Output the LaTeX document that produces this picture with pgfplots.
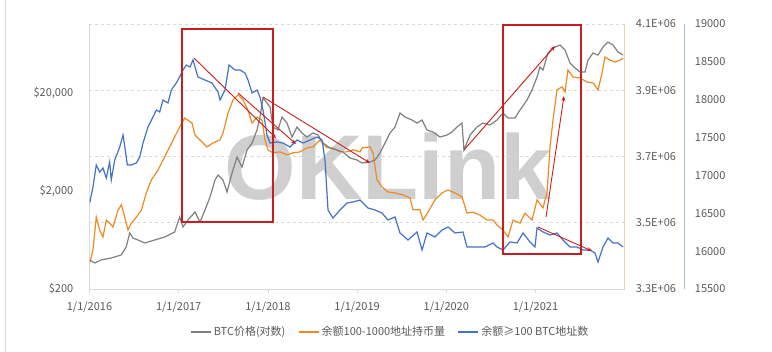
\documentclass[border=0pt]{standalone}
\usepackage{pgfplots}
\pgfplotsset{compat=1.18}
\usepackage{fontspec}
\setmainfont{Noto Sans CJK SC}
\newfontfamily\wmfont{Liberation Sans}
\usetikzlibrary{arrows.meta}
\definecolor{btcgray}{HTML}{808080}
\definecolor{orser}{HTML}{EE8A22}
\definecolor{blser}{HTML}{4472C4}
\definecolor{ann}{HTML}{C81E1E}
\definecolor{ticktext}{HTML}{595959}
\definecolor{axgray}{HTML}{D9D9D9}
\definecolor{gridc}{HTML}{D9D9D9}
\definecolor{oraxis}{HTML}{F8CBAD}
\definecolor{blaxis}{HTML}{A9BCD0}
\definecolor{wmgray}{HTML}{CFCFCF}
\newcommand\tickfont{\fontsize{11bp}{13bp}\selectfont}
\begin{document}
\begin{tikzpicture}
\useasboundingbox (0,0) rectangle (772bp,352bp);
\draw[axgray, line width=0.8bp] (5bp,0) -- (5bp,352bp);
\node[anchor=base, text=wmgray, inner sep=0pt, font=\wmfont\bfseries\fontsize{92bp}{92bp}\selectfont] at (388bp,152bp) {OKLink};
\pgfplotsset{common/.style={width=535.2bp,height=265bp,scale only axis,at={(89.5bp,63bp)},anchor=south west,xmin=0,xmax=6,
  scaled y ticks=false, scaled x ticks=false,
  tick label style={font=\tickfont, text=ticktext}}}
% ---------- orange axis ----------
\begin{axis}[common,
  axis x line=none, xtick=\empty,
  axis y line*=right,
  ymin=3.3, ymax=4.1,
  ytick={3.3,3.5,3.7,3.9,4.1},
  yticklabels={3.3E+06,3.5E+06,3.7E+06,3.9E+06,4.1E+06},
  ymajorgrids, grid style={dashed, gridc, line width=0.6bp},
  y axis line style={oraxis, line width=0.8bp},
  ytick style={draw=none},
  yticklabel style={anchor=west, inner sep=0pt, xshift=11bp},
]
\addplot[orser, line width=1.2bp] coordinates {
(0.002,3.378) (0.039,3.418) (0.076,3.517) (0.114,3.478) (0.151,3.457) (0.188,3.508) (0.226,3.499) (0.263,3.487)
(0.320,3.538) (0.357,3.554) (0.395,3.517) (0.432,3.478) (0.469,3.499) (0.525,3.517) (0.581,3.538) (0.637,3.590)
(0.693,3.629) (0.768,3.659) (0.824,3.689) (0.899,3.729) (0.955,3.759) (1.011,3.789) (1.067,3.816)
(1.149,3.801) (1.183,3.765) (1.239,3.750)
(1.317,3.729) (1.385,3.741) (1.463,3.750) (1.497,3.771) (1.553,3.831) (1.609,3.871) (1.665,3.886) (1.721,3.871)
(1.777,3.840) (1.822,3.801) (1.878,3.819) (1.934,3.810) (1.968,3.750) (2.001,3.720) (2.057,3.711) (2.136,3.714)
(2.214,3.705) (2.281,3.711) (2.360,3.714) (2.438,3.726) (2.506,3.729) (2.584,3.750) (2.663,3.726) (2.730,3.726)
(2.808,3.714) (2.887,3.714) (2.954,3.720) (3.033,3.714) (3.055,3.726) (3.145,3.729) (3.178,3.711) (3.223,3.629)
(3.279,3.608) (3.346,3.593) (3.425,3.590) (3.515,3.584) (3.593,3.575) (3.627,3.539) (3.705,3.539) (3.739,3.508)
(3.795,3.532) (3.873,3.569) (3.952,3.590) (4.019,3.599) (4.098,3.590) (4.176,3.578) (4.232,3.529) (4.299,3.532)
(4.378,3.523) (4.456,3.508) (4.524,3.508) (4.568,3.493) (4.636,3.478) (4.692,3.457) (4.748,3.508) (4.826,3.499)
(4.882,3.529) (4.961,3.508) (5.017,3.569) (5.084,3.545) (5.129,3.590) (5.163,3.729) (5.196,3.810) (5.241,3.901)
(5.297,3.910) (5.331,3.895) (5.364,3.961) (5.420,3.940) (5.499,3.937) (5.577,3.925) (5.645,3.922) (5.701,3.901)
(5.746,3.952) (5.779,4.000) (5.835,3.991) (5.891,3.985) (5.947,3.991) (5.981,3.997)
};
\end{axis}
% ---------- BTC price axis (log) ----------
\begin{axis}[common,
  axis x line*=bottom, axis y line*=left,
  ymode=log, ymin=200, ymax=100000,
  ytick={200,2000,20000},
  yticklabels={{\$200},{\$2,000},{\$20,000}},
  ytick style={draw=none},
  yticklabel style={anchor=east, inner sep=0pt, xshift=-12bp},
  xtick={0,1,2,3,4,5},
  xticklabels={1/1/2016,1/1/2017,1/1/2018,1/1/2019,1/1/2020,1/1/2021},
  xtick style={draw=axgray, line width=0.6bp},
  tick align=outside, major tick length=4bp,
  xticklabel style={anchor=north, inner sep=0pt, yshift=-9bp},
  x axis line style={axgray, line width=0.8bp},
  y axis line style={axgray, line width=0.8bp},
  legend columns=3,
  legend style={draw=none, fill=none, at={(0.5615,-0.162)}, anchor=center,
    font=\tickfont, text=ticktext,
    /tikz/every even column/.append style={column sep=10bp},
    nodes={inner xsep=2bp, inner ysep=1bp}},
  legend image code/.code={\draw[#1, line width=2.2bp] (0bp,0bp) -- (20bp,0bp);},
]
\addplot[btcgray, line width=1.2bp] coordinates {
(0.002,395) (0.058,368) (0.129,395) (0.245,414) (0.355,444) (0.412,536) (0.451,743) (0.488,661)
(0.544,631) (0.619,588) (0.731,631) (0.843,677) (0.955,761) (1.011,1082) (1.048,856)
(1.104,1008) (1.183,1216) (1.239,962) (1.295,1275) (1.351,1730) (1.407,2576) (1.441,2896) (1.497,2576)
(1.542,1944) (1.598,3036) (1.654,4418) (1.710,3494) (1.766,5206) (1.822,6136) (1.878,8318) (1.912,11288)
(1.945,17620) (1.990,15666) (2.024,14266) (2.057,8928) (2.113,8318) (2.158,11288) (2.214,9796) (2.270,7064)
(2.326,8928) (2.382,7756) (2.438,7064) (2.506,7756) (2.562,7398) (2.618,6136) (2.696,5456) (2.775,5206)
(2.842,4968) (2.920,4316) (2.999,4118) (3.055,3838) (3.145,3930) (3.201,4118) (3.257,4854) (3.313,6136)
(3.369,7756) (3.425,8928) (3.481,12394) (3.537,11288) (3.616,10520) (3.672,9796) (3.728,10520) (3.784,8318)
(3.851,7940) (3.929,7064) (4.008,7398) (4.064,7940) (4.120,8928) (4.176,9796) (4.198,5206) (4.266,7398)
(4.344,8928) (4.411,9796) (4.490,9354) (4.568,10520) (4.636,12394) (4.692,11020) (4.770,11020) (4.826,13300)
(4.905,16816) (4.961,21260) (5.017,28840) (5.050,36460) (5.084,33960) (5.140,50600) (5.196,56900) (5.275,61060)
(5.331,54320) (5.387,40040) (5.443,35620) (5.499,32420) (5.555,32420) (5.589,42960) (5.645,50600) (5.701,48300)
(5.757,58220) (5.813,65460) (5.869,61060) (5.925,51800) (5.981,48300)
};
\addlegendentry{BTC价格(对数)}
\addlegendimage{orser}
\addlegendentry{余额100-1000地址持币量}
\addlegendimage{blser}
\addlegendentry{余额≥100 BTC地址数}
\end{axis}
% ---------- blue axis ----------
\begin{axis}[common,
  axis x line=none, xtick=\empty,
  axis y line*=right,
  ymin=15500, ymax=19000,
  ytick={15500,16000,16500,17000,17500,18000,18500,19000},
  yticklabels={15500,16000,16500,17000,17500,18000,18500,19000},
  y axis line style={draw=none},
  ytick style={draw=none},
  yticklabel style={anchor=west, inner sep=0pt, xshift=70bp},
]
\addplot[blser, line width=1.2bp] coordinates {
(0.002,16636) (0.039,16847) (0.076,17138) (0.114,17045) (0.151,17098) (0.188,16966) (0.226,17177) (0.244,16940)
(0.283,17204) (0.339,17375) (0.376,17534) (0.401,17336) (0.424,17138) (0.469,17138) (0.525,17164) (0.563,17243)
(0.600,17428) (0.656,17640) (0.712,17772) (0.749,17864) (0.787,17838) (0.824,17996) (0.880,17957) (0.917,18128)
(0.973,18221) (1.011,18300) (1.048,18392) (1.085,18458) (1.127,18432) (1.160,18525)
(1.216,18300) (1.295,18260) (1.373,18221) (1.441,18102) (1.463,17996) (1.519,18128) (1.564,18458) (1.631,18392)
(1.687,18392) (1.743,18353) (1.777,18260) (1.822,18089) (1.878,18128) (1.911,18036) (1.945,17864) (1.990,17534)
(2.024,17428) (2.102,17442) (2.169,17428) (2.248,17375) (2.326,17468) (2.394,17428) (2.472,17468) (2.551,17507)
(2.607,17468) (2.640,17204) (2.674,16543) (2.730,16438) (2.808,16543) (2.887,16636) (2.954,16649) (3.033,16675)
(3.122,16570) (3.201,16543) (3.279,16504) (3.346,16411) (3.425,16451) (3.481,16240) (3.571,16147) (3.672,16253)
(3.728,16015) (3.784,16240) (3.873,16187) (3.952,16279) (4.019,16319) (4.098,16240) (4.187,16253) (4.232,16055)
(4.322,16055) (4.434,16055) (4.524,16108) (4.568,16055) (4.636,16015) (4.714,16121) (4.793,16108) (4.860,16240)
(4.938,16121) (4.994,16055) (5.017,16306) (5.084,16253) (5.163,16213) (5.241,16240) (5.308,16147) (5.387,16055)
(5.465,16055) (5.533,16015) (5.611,16015) (5.667,15975) (5.701,15857) (5.757,16055) (5.813,16174) (5.869,16108)
(5.925,16108) (5.981,16055)
};
\end{axis}
% blue axis line
\draw[blaxis, line width=0.8bp] (684bp,63bp) -- (684bp,328bp);
% annotations
\draw[ann, line width=1.3bp] (182bp,323bp) rectangle (273bp,130bp);
\draw[ann, line width=1.3bp] (503bp,327bp) rectangle (581bp,98bp);
\draw[ann, line width=0.9bp, -{Stealth[length=5bp,width=4bp]}] (194bp,294bp) -- (276bp,214bp);
\draw[ann, line width=0.9bp, -{Stealth[length=5bp,width=4bp]}] (238bp,259bp) -- (296bp,208bp);
\draw[ann, line width=0.9bp, -{Stealth[length=5bp,width=4bp]}] (263bp,255bp) -- (370bp,189bp);
\draw[ann, line width=0.9bp, -{Stealth[length=5bp,width=4bp]}] (464bp,202bp) -- (555bp,306bp);
\draw[ann, line width=0.9bp, -{Stealth[length=5bp,width=4bp]}] (546bp,135bp) -- (564bp,256bp);
\draw[ann, line width=0.9bp, -{Stealth[length=5bp,width=4bp]}] (538bp,125bp) -- (592bp,101bp);
\end{tikzpicture}
\end{document}
